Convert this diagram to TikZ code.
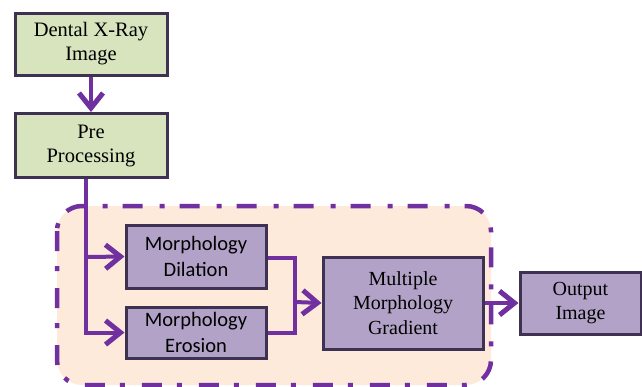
\documentclass[tikz,border=0pt]{standalone}
\usepackage{fontspec}
\setmainfont{Liberation Serif}
\newfontfamily\calib{Carlito}
\usetikzlibrary{arrows.meta}
\definecolor{gfill}{HTML}{D7E4BD}
\definecolor{pfill}{HTML}{B3A2C7}
\definecolor{bdr}{HTML}{3F3151}
\definecolor{conn}{HTML}{7030A0}
\definecolor{peach}{HTML}{FDEADA}
\tikzset{
  gbox/.style={draw=bdr, fill=gfill, line width=3pt, align=center, inner sep=0pt,
    font=\fontsize{20.5}{24}\selectfont},
  pbox/.style={draw=bdr, fill=pfill, line width=3pt, align=center, inner sep=0pt,
    font=\fontsize{20}{24.5}\selectfont},
  sbox/.style={pbox, font=\calib\fontsize{20.5}{26}\selectfont},
  arr/.style={draw=conn, line width=4pt, -{Straight Barb[length=15pt,width=24pt,line width=5pt]}},
  ln/.style={draw=conn, line width=4pt},
  frame/.style={draw=conn, fill=peach, line width=4.5pt, rounded corners=25pt,
    dash pattern=on 20pt off 15pt on 5pt off 17pt}
}
\begin{document}
\begin{tikzpicture}[x=1pt,y=-1pt]
\useasboundingbox (0,0) rectangle (642,386);
\draw[frame] (57,206) rectangle (491,385);
\node[gbox, minimum width=152pt, minimum height=62pt] (dental) at (91,44) {Dental X-Ray\\Image};
\node[gbox, minimum width=152pt, minimum height=64pt] (pre) at (91,145.5) {Pre\\Processing};
\node[sbox, minimum width=140pt, minimum height=63pt] (dil) at (196,256.5) {Morphology\\Dilation};
\node[sbox, minimum width=140pt, minimum height=51pt] (ero) at (196,332.5) {Morphology\\Erosion};
\node[pbox, minimum width=160pt, minimum height=92pt] (mult) at (403,303) {Multiple\\Morphology\\Gradient};
\node[pbox, minimum width=121pt, minimum height=62pt] (out) at (580.5,303) {Output\\Image};
\coordinate (j1) at (86,257);
\coordinate (j2) at (295,302);
\draw[arr] (dental) -- (pre);
\draw[arr] ([xshift=-5pt]pre.south) |- (ero.west);
\draw[arr] (j1) -- (dil.west);
\draw[ln] ([yshift=-1.5pt]dil.east) -| (j2) |- (ero.east);
\draw[arr] (j2) -- (mult.west);
\draw[arr] (mult.east) -- (out.west);
\end{tikzpicture}
\end{document}
